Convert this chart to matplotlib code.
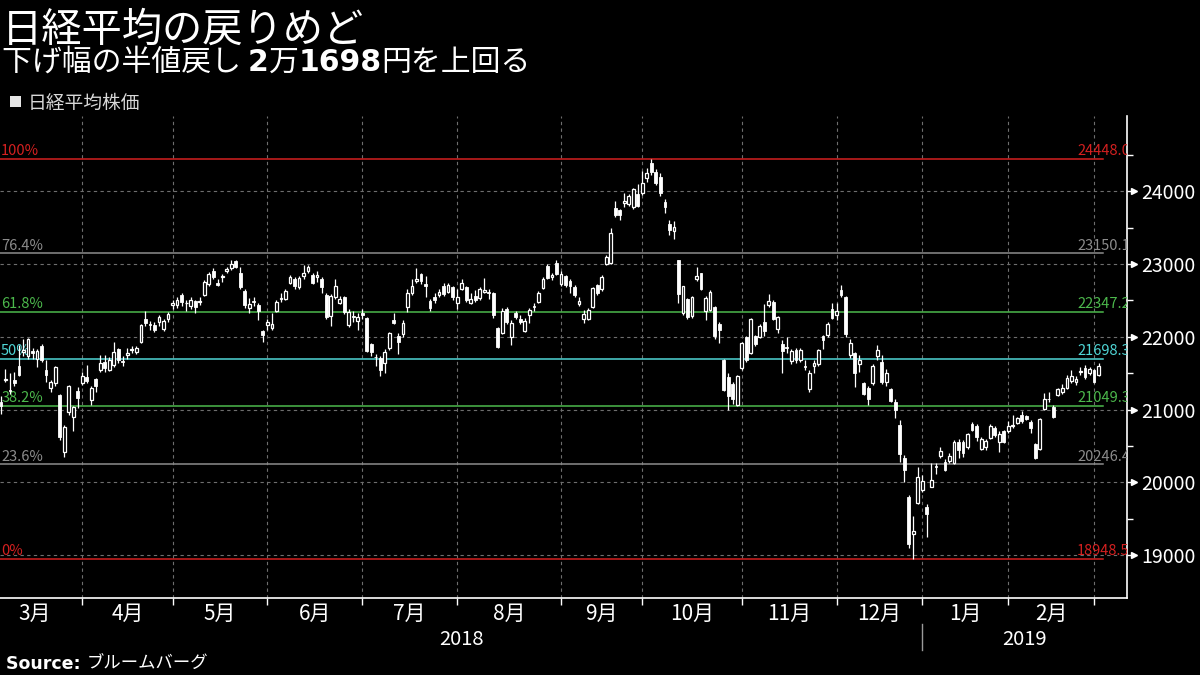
import matplotlib
matplotlib.use("Agg")
import matplotlib.pyplot as plt
import numpy as np
from matplotlib.patches import Rectangle
from matplotlib.transforms import blended_transform_factory, ScaledTranslation

plt.rcParams['font.family'] = ['Noto Sans CJK JP', 'DejaVu Sans']

# trading days shown (Nikkei 225, daily)
trading_days = [
    (2018, 3, [5, 6, 7, 8, 9, 12, 13, 14, 15, 16, 19, 20, 22, 23, 26, 27, 28, 29, 30]),
    (2018, 4, [2, 3, 4, 5, 6, 9, 10, 11, 12, 13, 16, 17, 18, 19, 20, 23, 24, 25, 26, 27]),
    (2018, 5, [1, 2, 7, 8, 9, 10, 11, 14, 15, 16, 17, 18, 21, 22, 23, 24, 25, 28, 29, 30, 31]),
    (2018, 6, [1, 4, 5, 6, 7, 8, 11, 12, 13, 14, 15, 18, 19, 20, 21, 22, 25, 26, 27, 28, 29]),
    (2018, 7, [2, 3, 4, 5, 6, 9, 10, 11, 12, 13, 17, 18, 19, 20, 23, 24, 25, 26, 27, 30, 31]),
    (2018, 8, [1, 2, 3, 6, 7, 8, 9, 10, 13, 14, 15, 16, 17, 20, 21, 22, 23, 24, 27, 28, 29, 30, 31]),
    (2018, 9, [3, 4, 5, 6, 7, 10, 11, 12, 13, 14, 18, 19, 20, 21, 25, 26, 27, 28]),
    (2018, 10, [1, 2, 3, 4, 5, 9, 10, 11, 12, 15, 16, 17, 18, 19, 22, 23, 24, 25, 26, 29, 30, 31]),
    (2018, 11, [1, 2, 5, 6, 7, 8, 9, 12, 13, 14, 15, 16, 19, 20, 21, 22, 26, 27, 28, 29, 30]),
    (2018, 12, [3, 4, 5, 6, 7, 10, 11, 12, 13, 14, 17, 18, 19, 20, 21, 25, 26, 27, 28]),
    (2019, 1, [4, 7, 8, 9, 10, 11, 15, 16, 17, 18, 21, 22, 23, 24, 25, 28, 29, 30, 31]),
    (2019, 2, [1, 4, 5, 6, 7, 8, 12, 13, 14, 15, 18, 19, 20, 21, 22, 25, 26, 27, 28]),
    (2019, 3, [1]),
]
march_days_hidden = 2  # Mar 1-2 2018 fall left of the visible window

open_ = [
    21100, 21400, 21270, 21400, 21600, 21790, 21730, 21800, 21700, 21880, 21540, 21300, 21368, 21200, 20420, 20960, 20900, 21255, 21360,
    21443, 21130, 21420, 21543, 21650, 21545, 21612, 21832, 21670, 21750, 21820, 21790, 21932, 22244, 22170, 22162, 22200, 22107, 22250, 22440,
    22430, 22574, 22460, 22420, 22490, 22480, 22574, 22720, 22903, 22740, 22820, 22910, 22940, 23040, 22880, 22633, 22390, 22490, 22437, 22080, 22160,
    22120, 22358, 22520, 22520, 22740, 22800, 22680, 22840, 22900, 22850, 22820, 22800, 22574, 22280, 22540, 22470, 22546, 22162, 22290, 22220, 22320,
    22258, 21900, 21725, 21707, 21645, 21840, 22230, 22010, 22040, 22405, 22600, 22760, 22860, 22720, 22496, 22550, 22580, 22700, 22620, 22680, 22460,
    22660, 22688, 22460, 22560, 22530, 22620, 22610, 22606, 22117, 22056, 22378, 21992, 22320, 22250, 22080, 22300, 22420, 22480, 22670, 22973, 22820, 23018, 22720,
    22830, 22760, 22680, 22450, 22250, 22250, 22410, 22710, 22650, 23000, 23010, 23766, 23740, 23840, 23830, 23780, 23963, 23970,
    24178, 24384, 24270, 24200, 23850, 23550, 23450, 23055, 22323, 22515, 22285, 22800, 22872, 22350, 22370, 22405, 22172, 21680, 21450, 21345, 21060, 21566,
    22000, 21773, 22010, 22000, 22200, 22430, 22480, 22110, 21900, 21850, 21670, 21820, 21680, 21600, 21278, 21600, 21620, 22010, 22020, 22380, 22300,
    22640, 22550, 21750, 21773, 21620, 21365, 21300, 21360, 21740, 21650, 21380, 21278, 21110, 20788, 20330, 19801, 19290, 19710, 19890,
    19665, 19940, 20224, 20360, 20283, 20290, 20260, 20555, 20557, 20480, 20800, 20780, 20453, 20490, 20604, 20750, 20550, 20700, 20700,
    20780, 20820, 20930, 20910, 20830, 20525, 20453, 21010, 21150, 21040, 21200, 21240, 21296, 21390, 21380, 21510, 21570, 21500, 21550,
    21470,
]
high = [
    21190, 21560, 21500, 21510, 21884, 21970, 21990, 21850, 21830, 21900, 21680, 21400, 21600, 21220, 20790, 21340, 21050, 21313, 21520,
    21612, 21330, 21440, 21750, 21750, 21720, 21930, 21850, 21730, 21850, 21870, 21880, 22180, 22354, 22220, 22200, 22300, 22250, 22340, 22500,
    22550, 22600, 22500, 22540, 22510, 22540, 22780, 22890, 22950, 22800, 22860, 22960, 23050, 23050, 22955, 22650, 22529, 22550, 22460, 22100, 22240,
    22323, 22500, 22600, 22650, 22856, 22820, 22830, 22990, 22990, 22870, 22900, 22820, 22600, 22590, 22790, 22560, 22560, 22380, 22350, 22320, 22380,
    22270, 21920, 21760, 21730, 21830, 22070, 22323, 22050, 22230, 22650, 22800, 22949, 22880, 22835, 22520, 22600, 22650, 22740, 22740, 22700, 22660,
    22790, 22700, 22600, 22643, 22690, 22804, 22660, 22620, 22130, 22390, 22410, 22230, 22350, 22300, 22260, 22400, 22460, 22630, 22820, 23000, 22880, 23050, 22900,
    22850, 22800, 22710, 22551, 22370, 22400, 22690, 22730, 22850, 23120, 23491, 23860, 23760, 23980, 23960, 24050, 24100, 24283,
    24316, 24448, 24300, 24250, 23900, 23600, 23590, 23060, 22700, 22530, 22560, 22963, 22880, 22560, 22640, 22420, 22207, 21700, 21500, 21380, 21470, 21930,
    22010, 22260, 22030, 22170, 22450, 22588, 22500, 22290, 21950, 21992, 21830, 21850, 21840, 21680, 21540, 21680, 21830, 22030, 22200, 22460, 22460,
    22712, 22560, 21965, 21790, 21750, 21380, 21320, 21620, 21887, 21750, 21560, 21300, 21150, 20856, 20380, 19820, 19536, 20213, 20100,
    19700, 20269, 20260, 20489, 20320, 20400, 20580, 20600, 20580, 20680, 20830, 20800, 20620, 20600, 20800, 20780, 20700, 20720, 20840,
    20925, 20900, 20980, 20930, 20850, 20540, 20880, 21222, 21240, 21060, 21300, 21350, 21474, 21543, 21460, 21589, 21612, 21580, 21560,
    21644,
]
low = [
    20937, 21380, 21220, 21320, 21460, 21730, 21700, 21700, 21580, 21650, 21380, 21236, 21330, 20580, 20347, 20930, 20700, 21016, 21337,
    21370, 21056, 21240, 21510, 21520, 21530, 21590, 21640, 21600, 21700, 21780, 21760, 21920, 22150, 22100, 22060, 22150, 22080, 22200, 22380,
    22400, 22420, 22350, 22380, 22330, 22440, 22560, 22700, 22790, 22700, 22750, 22880, 22920, 22950, 22653, 22400, 22323, 22420, 22230, 21932, 22100,
    22100, 22340, 22480, 22500, 22720, 22660, 22660, 22800, 22870, 22720, 22750, 22600, 22250, 22150, 22520, 22450, 22310, 22130, 22200, 22100, 22250,
    21790, 21740, 21600, 21460, 21500, 21820, 22180, 21760, 22000, 22340, 22580, 22740, 22730, 22550, 22350, 22460, 22540, 22560, 22600, 22500, 22380,
    22640, 22480, 22450, 22480, 22510, 22597, 22520, 22260, 21850, 22040, 22180, 21890, 22250, 22180, 22060, 22185, 22350, 22460, 22650, 22800, 22780, 22850, 22700,
    22690, 22606, 22550, 22418, 22185, 22230, 22390, 22580, 22630, 22980, 23000, 23650, 23600, 23780, 23800, 23760, 23783, 23950,
    24132, 24224, 24080, 23935, 23700, 23400, 23350, 22460, 22300, 22250, 22260, 22770, 22640, 22230, 22350, 21970, 21918, 21260, 20990, 21070, 21050, 21550,
    21650, 21760, 21880, 21980, 22010, 22413, 22230, 22056, 21500, 21773, 21620, 21640, 21660, 21550, 21243, 21500, 21600, 21830, 22000, 22240, 22230,
    22550, 22000, 21704, 21310, 21520, 21200, 21060, 21340, 21680, 21350, 21330, 21100, 20890, 20282, 20008, 19100, 18948.58, 19700, 19870,
    19241, 19930, 20110, 20340, 20150, 20270, 20250, 20330, 20343, 20460, 20700, 20571, 20440, 20443, 20590, 20620, 20420, 20540, 20680,
    20742, 20800, 20820, 20850, 20673, 20315, 20440, 21000, 21108, 20880, 21180, 21210, 21280, 21370, 21340, 21480, 21416, 21480, 21370,
    21460,
]
close = [
    21042, 21417, 21252, 21368, 21469, 21824, 21968, 21777, 21803, 21676, 21480, 21380, 21591, 20617, 20766, 21317, 21031, 21159, 21454,
    21388, 21292, 21319, 21645, 21567, 21678, 21794, 21687, 21660, 21778, 21835, 21847, 22158, 22191, 22162, 22088, 22278, 22215, 22319, 22467,
    22508, 22472, 22467, 22508, 22408, 22497, 22758, 22865, 22818, 22717, 22838, 22930, 23002, 22960, 22689, 22437, 22450, 22481, 22358, 22018, 22201,
    22171, 22475, 22539, 22625, 22823, 22694, 22804, 22878, 22966, 22738, 22851, 22680, 22278, 22555, 22693, 22516, 22338, 22342, 22271, 22270, 22304,
    21811, 21785, 21717, 21546, 21788, 22052, 22196, 21932, 22187, 22597, 22697, 22794, 22764, 22697, 22396, 22510, 22614, 22586, 22712, 22544, 22553,
    22746, 22512, 22525, 22507, 22662, 22644, 22598, 22298, 21857, 22356, 22204, 22192, 22270, 22199, 22219, 22362, 22410, 22601, 22799, 22813, 22848, 22869, 22865,
    22707, 22696, 22580, 22487, 22307, 22373, 22664, 22604, 22821, 23094, 23420, 23672, 23674, 23869, 23940, 24033, 23796, 24120,
    24245, 24270, 24110, 23975, 23783, 23469, 23506, 22590, 22694, 22271, 22549, 22841, 22658, 22532, 22614, 22010, 22091, 21268, 21184, 21149, 21457, 21920,
    21687, 22243, 21898, 22147, 22085, 22486, 22250, 22269, 21810, 21846, 21803, 21680, 21821, 21583, 21507, 21646, 21812, 21952, 22177, 22262, 22351,
    22574, 22036, 21919, 21501, 21678, 21219, 21148, 21602, 21816, 21374, 21506, 21115, 20988, 20392, 20166, 19155, 19327, 20077, 20014,
    19561, 20038, 20204, 20427, 20163, 20359, 20555, 20442, 20402, 20666, 20719, 20622, 20593, 20574, 20773, 20649, 20664, 20556, 20773,
    20788, 20883, 20844, 20874, 20751, 20333, 20864, 21144, 21139, 20900, 21281, 21302, 21431, 21464, 21425, 21528, 21449, 21556, 21385,
    21602,
]

fib_labels = ["100%", "76.4%", "61.8%", "50%", "38.2%", "23.6%", "0%"]
fib_values = [24448.07, 23150.19, 22347.27, 21698.32, 21049.38, 20246.46, 18948.58]
fib_colors = ["#d42020", "#8c8c8c", "#4cb84c", "#4fd6d6", "#4cb84c", "#8c8c8c", "#d42020"]

month_labels = ["3月", "4月", "5月", "6月", "7月", "8月", "9月", "10月", "11月", "12月", "1月", "2月"]
year_labels = ["2018", "2019"]
y_ticks = [19000, 20000, 21000, 22000, 23000, 24000]

title = "日経平均の戻りめど"
subtitle_runs = [("下げ幅の半値戻し ", "normal"), ("2", "bold"), ("万", "normal"),
                 ("1698", "bold"), ("円を上回る", "normal")]
legend_label = "日経平均株価"
source_runs = [("Source: ", "bold"), ("ブルームバーグ", "normal")]

W, H = 1200, 675
fig = plt.figure(figsize=(12, 6.75), dpi=100, facecolor="black")
ax = fig.add_axes([0, 1 - 598 / H, 1127 / W, (598 - 116) / H], facecolor="black")

n = len(close)
x = np.arange(n)
o = np.array(open_, float)
hi = np.array(high, float)
lo = np.array(low, float)
c = np.array(close, float)

# month boundaries (tick sits on last trading day of previous month)
first_idx = []
k = 0
for yr, mo, days in trading_days:
    first_idx.append(k)
    k += len(days)
bounds = [-march_days_hidden - 1] + [f - 1 for f in first_idx[1:]]

ax.set_xlim(-0.2, 249.3)
ax.set_ylim(18409, 25035)

grid_kw = dict(color="#6e6e6e", lw=0.8, dashes=(3, 3), zorder=1)
for b in bounds[1:]:
    ax.axvline(b, **grid_kw)
for t in y_ticks:
    ax.axhline(t, **grid_kw)

# fibonacci retracement lines
lab_off = ScaledTranslation(0, 2.5 / 72, fig.dpi_scale_trans)
bt = blended_transform_factory(ax.transAxes, ax.transData)
for lab, val, col in zip(fib_labels, fib_values, fib_colors):
    ax.plot([0, 0.9787], [val, val], color=col, lw=1.1, transform=bt, zorder=2)
    ax.text(0.001, val, lab, color=col, fontsize=10.5, transform=bt + lab_off,
            ha="left", va="baseline", zorder=3)
    ax.text(0.9556, val, f"{val:.2f}", color=col, fontsize=10.5, transform=bt + lab_off,
            ha="left", va="baseline", zorder=3, clip_on=True)

# candles
ax.vlines(x, lo, hi, color="white", lw=0.9, zorder=4)
up = c >= o
body_lo = np.minimum(o, c)
body_h = np.maximum(np.abs(c - o), 10)
ax.bar(x[up], body_h[up], bottom=body_lo[up], width=0.62, facecolor="black",
       edgecolor="white", linewidth=0.9, zorder=5)
ax.bar(x[~up], body_h[~up], bottom=body_lo[~up], width=0.62, facecolor="white",
       edgecolor="white", linewidth=0.6, zorder=5)

# axes styling
for s in ["top", "left"]:
    ax.spines[s].set_visible(False)
for s in ["bottom", "right"]:
    ax.spines[s].set_color("white")
    ax.spines[s].set_linewidth(1.2)
ax.yaxis.tick_right()
ax.set_yticks(y_ticks)
ax.set_yticklabels([str(t) for t in y_ticks])
ax.set_yticks([t + 500 for t in [18500] + y_ticks], minor=True)
ax.tick_params(axis="y", which="major", colors="white", labelsize=14, length=5, width=1, pad=5)
ax.tick_params(axis="y", which="minor", colors="white", length=4, width=1)
ax.plot([1.0] * len(y_ticks), y_ticks, marker=">", ls="none", color="white", ms=4.5,
        transform=blended_transform_factory(ax.transAxes, ax.transData) +
        ScaledTranslation(5 / 72, 0, fig.dpi_scale_trans), clip_on=False)
ax.set_xticks(bounds[1:])
ax.set_xticklabels([])
ax.tick_params(axis="x", colors="white", length=5, width=1)

# month and year labels
xt = blended_transform_factory(ax.transData, fig.transFigure)
centers = [(bounds[i] + bounds[i + 1]) / 2 for i in range(len(month_labels))]
for lab, cx in zip(month_labels, centers):
    fig.text(cx, 1 - 620 / H, lab, transform=xt, color="white", fontsize=15,
             ha="center", va="baseline")
jan_b = bounds[10]
fig.text(((jan_b + (-0.2)) / 2), 1 - 645 / H, year_labels[0], transform=xt,
         color="white", fontsize=14.5, ha="center", va="baseline")
fig.text(((jan_b + 249.3) / 2), 1 - 645 / H, year_labels[1], transform=xt,
         color="white", fontsize=14.5, ha="center", va="baseline")
fig.add_artist(plt.Line2D([jan_b, jan_b], [1 - 624 / H, 1 - 650 / H], transform=xt,
                          color="#9a9a9a", lw=1))

# header texts
fig.text(2 / W, 1 - 42 / H, title, color="white", fontsize=29, ha="left", va="baseline")
renderer = fig.canvas.get_renderer()


def draw_runs(runs, x0, yb, size, color):
    xp = x0
    for s, w in runs:
        fam = ["DejaVu Sans", "Noto Sans CJK JP"] if w == "bold" else ["Noto Sans CJK JP", "DejaVu Sans"]
        t = fig.text(xp / W, 1 - yb / H, s, color=color, fontsize=size, fontweight=w,
                     family=fam, ha="left", va="baseline")
        xp += t.get_window_extent(renderer=renderer).width


draw_runs(subtitle_runs, 2, 71, 21.5, "white")
fig.add_artist(Rectangle((10 / W, 1 - 107 / H), 11 / W, 11 / H, transform=fig.transFigure,
                         facecolor="#e6e6e6", edgecolor="none"))
fig.text(28 / W, 1 - 109 / H, legend_label, color="#d8d8d8", fontsize=13.5,
         ha="left", va="baseline")
draw_runs(source_runs, 6, 669, 12.5, "white")

fig.savefig("out.png", dpi=100, facecolor="black")
